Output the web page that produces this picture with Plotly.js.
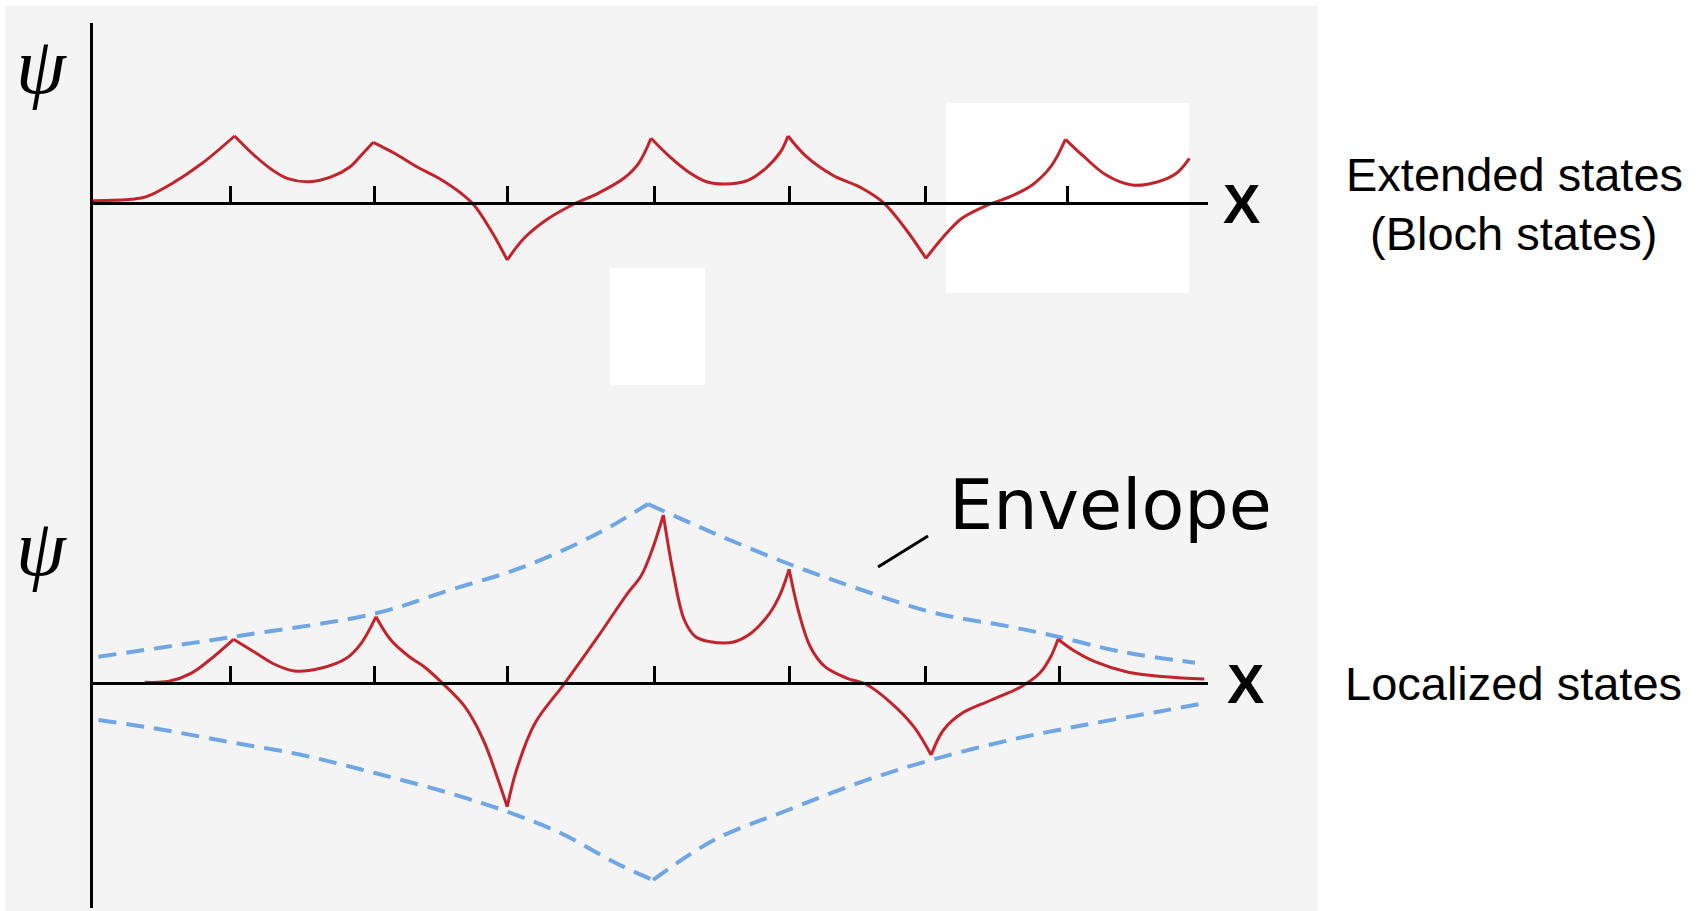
<!DOCTYPE html>
<html>
<head>
<meta charset="utf-8">
<script src="https://cdn.plot.ly/plotly-3.0.1.min.js"></script>
<style>
  html, body { margin: 0; padding: 0; background: #ffffff; }
  #plot { width: 1704px; height: 911px; }
</style>
</head>
<body>
<div id="plot"></div>
<script>
// x in lattice units (one tick = one lattice site), psi in arbitrary units

// Extended (Bloch) state
const extendedX = [0.000, 0.277, 0.383, 0.568, 0.780, 1.012, 1.150, 1.282, 1.388, 1.547,
  1.706, 1.838, 1.930, 2.004, 2.155, 2.314, 2.472, 2.631, 2.723, 2.843,
  2.961, 3.081, 3.239, 3.424, 3.610, 3.794, 3.900, 3.989, 4.122, 4.254,
  4.386, 4.518, 4.677, 4.809, 4.915, 4.968, 5.100, 5.285, 5.497, 5.655,
  5.814, 5.954, 6.079, 6.211, 6.396, 6.555, 6.713, 6.846, 6.951, 7.084,
  7.242, 7.427, 7.613, 7.744, 7.837];
const extendedPsi = [0.023, 0.037, 0.063, 0.197, 0.397, 0.670, 0.480, 0.330, 0.247, 0.213,
  0.263, 0.363, 0.497, 0.607, 0.497, 0.363, 0.247, 0.097, -0.020, -0.270,
  -0.570, -0.353, -0.170, -0.020, 0.097, 0.247, 0.397, 0.647, 0.463, 0.313,
  0.213, 0.190, 0.223, 0.347, 0.513, 0.670, 0.463, 0.280, 0.147, -0.003,
  -0.270, -0.553, -0.337, -0.153, -0.020, 0.063, 0.180, 0.363, 0.637, 0.463,
  0.280, 0.180, 0.213, 0.297, 0.447];

// Localized state
const localizedX = [0.370, 0.542, 0.700, 0.833, 1.004, 1.150, 1.309, 1.441, 1.626, 1.811,
  1.917, 2.023, 2.129, 2.261, 2.367, 2.499, 2.658, 2.790, 2.896, 2.961,
  3.027, 3.159, 3.371, 3.609, 3.821, 3.917, 3.995, 4.077, 4.148, 4.227,
  4.307, 4.412, 4.571, 4.703, 4.836, 4.915, 4.976, 5.047, 5.127, 5.232,
  5.391, 5.523, 5.708, 5.867, 5.991, 6.079, 6.211, 6.422, 6.634, 6.766,
  6.846, 6.898, 7.004, 7.162, 7.400, 7.665, 7.943];
const localizedPsi = [0.002, 0.012, 0.092, 0.225, 0.432, 0.308, 0.175, 0.115, 0.142, 0.242,
  0.392, 0.658, 0.425, 0.258, 0.158, -0.008, -0.242, -0.575, -0.975, -1.242,
  -0.875, -0.408, -0.008, 0.458, 0.892, 1.065, 1.320, 1.675, 1.092, 0.625,
  0.458, 0.408, 0.402, 0.492, 0.692, 0.892, 1.132, 0.692, 0.358, 0.158,
  0.042, -0.015, -0.208, -0.442, -0.725, -0.475, -0.308, -0.175, -0.042, 0.092,
  0.258, 0.432, 0.325, 0.208, 0.102, 0.058, 0.035];

// Exponential envelope of the localized state
const envelopeUpperX = [0.039, 1.004, 2.023, 2.552, 3.081, 3.610, 3.967, 4.439, 4.994,
  5.497, 6.026, 6.555, 6.898, 7.348, 7.877];
const envelopeUpperY = [0.258, 0.458, 0.692, 0.925, 1.158, 1.492, 1.785, 1.492, 1.175,
  0.925, 0.692, 0.558, 0.458, 0.308, 0.198];
const envelopeLowerX = [0.039, 0.436, 0.965, 1.494, 2.023, 2.552, 2.961, 3.345, 3.741,
  4.003, 4.439, 4.968, 5.497, 5.991, 6.555, 7.084, 7.613, 7.941];
const envelopeLowerY = [-0.375, -0.458, -0.592, -0.725, -0.908, -1.108, -1.292, -1.508, -1.808,
  -1.975, -1.575, -1.275, -0.992, -0.775, -0.575, -0.425, -0.292, -0.208];

// Lattice site positions
const latticeTop = [0.984, 2.015, 2.966, 4.017, 4.975, 5.954, 6.969];
const latticeBottom = [0.984, 2.015, 2.966, 4.017, 4.975, 5.954, 6.912];

// Axis ranges
const xRange = [0, 7.97];
const yTopRange = [-2.37, 1.80];
const yBottomRange = [-2.255, 2.425];

// ---- page geometry (pixels) ----
const W = 1704, H = 911;
const L = 93, R = 1208, T = 23, B = 908;
const SPLIT = 440;   // pixel row where the two panels meet
const px = x => (x - L) / (R - L);
const py = y => (B - y) / (B - T);
const splitFrac = py(SPLIT);

// paper fraction of psi = 0 in each panel
const zeroFrac = (range, d0, d1) => d0 + (0 - range[0]) / (range[1] - range[0]) * (d1 - d0);
const topAxisPos = zeroFrac(yTopRange, splitFrac, 1);
const botAxisPos = zeroFrac(yBottomRange, 0, splitFrac);

const RED = '#c3232b';
const BLUE = '#6ea6e6';

// The wavefunction is smooth between atoms but has sharp cusps on the atomic
// sites (positive maxima / negative minima).  Each smooth piece is drawn as its
// own spline so the cusps stay pointed.
function cuspSegments(xs, ys, xaxis, yaxis, line) {
  const cuts = [0];
  for (let i = 1; i < xs.length - 1; i++) {
    const isMax = ys[i] > ys[i - 1] && ys[i] > ys[i + 1] && ys[i] > 0;
    const isMin = ys[i] < ys[i - 1] && ys[i] < ys[i + 1] && ys[i] < 0;
    if (isMax || isMin) cuts.push(i);
  }
  cuts.push(xs.length - 1);
  const out = [];
  for (let k = 0; k < cuts.length - 1; k++) {
    const a = cuts[k], b = cuts[k + 1];
    out.push({
      x: xs.slice(a, b + 1), y: ys.slice(a, b + 1), xaxis: xaxis, yaxis: yaxis,
      mode: 'lines', line: Object.assign({ shape: 'spline', smoothing: 1 }, line),
      hoverinfo: 'skip'
    });
  }
  return out;
}

const redLine = { color: RED, width: 3 };
const blueLine = { color: BLUE, width: 4, dash: '18px,10px' };

const traces = [].concat(
  cuspSegments(extendedX, extendedPsi, 'x', 'y', redLine),
  cuspSegments(envelopeUpperX, envelopeUpperY, 'x2', 'y2', blueLine),
  cuspSegments(envelopeLowerX, envelopeLowerY, 'x2', 'y2', blueLine),
  cuspSegments(localizedX, localizedPsi, 'x2', 'y2', redLine)
);

const xAxisCommon = {
  range: xRange, domain: [0, 1], showgrid: false, zeroline: false,
  showline: true, linecolor: '#000', linewidth: 3,
  ticks: 'inside', ticklen: 16, tickwidth: 3, tickcolor: '#000',
  tickmode: 'array', showticklabels: false, fixedrange: true
};
const yAxisCommon = {
  showgrid: false, zeroline: false, showline: true, linecolor: '#000', linewidth: 3,
  ticks: '', showticklabels: false, fixedrange: true
};

const serifPsi = { family: 'Liberation Serif, DejaVu Serif, serif', size: 80, color: '#000', style: 'italic' };
const sansLabel = { family: 'Liberation Sans, Arial, sans-serif', size: 47, color: '#000' };
const axisX = { family: 'Liberation Sans, Arial, sans-serif', size: 56, color: '#000', weight: 700 };

const ann = (x, y, text, font, xanchor) => ({
  xref: 'paper', yref: 'paper', x: px(x), y: py(y), text: text, font: font,
  showarrow: false, xanchor: xanchor || 'center', yanchor: 'middle'
});

const layout = {
  width: W, height: H,
  margin: { l: L, r: W - R, t: T, b: H - B, pad: 0 },
  paper_bgcolor: '#ffffff',
  plot_bgcolor: 'rgba(0,0,0,0)',
  showlegend: false,
  xaxis: Object.assign({}, xAxisCommon, { anchor: 'free', position: topAxisPos, tickvals: latticeTop }),
  xaxis2: Object.assign({}, xAxisCommon, { anchor: 'free', position: botAxisPos, tickvals: latticeBottom }),
  yaxis: Object.assign({}, yAxisCommon, { range: yTopRange, domain: [splitFrac, 1], anchor: 'x' }),
  yaxis2: Object.assign({}, yAxisCommon, { range: yBottomRange, domain: [0, splitFrac], anchor: 'x2' }),
  shapes: [
    // light grey sheet behind the drawing
    { type: 'rect', xref: 'paper', yref: 'paper', layer: 'below',
      x0: px(5), x1: px(1318), y0: py(6), y1: py(911),
      fillcolor: '#f4f4f4', line: { width: 0 } },
    { type: 'rect', xref: 'paper', yref: 'paper', layer: 'below',
      x0: px(946), x1: px(1189), y0: py(103), y1: py(293),
      fillcolor: '#ffffff', line: { width: 0 } },
    { type: 'rect', xref: 'paper', yref: 'paper', layer: 'below',
      x0: px(610), x1: px(705), y0: py(268), y1: py(385),
      fillcolor: '#ffffff', line: { width: 0 } },
    // pointer from the label to the envelope
    { type: 'line', xref: 'paper', yref: 'paper',
      x0: px(878), y0: py(567), x1: px(928), y1: py(536),
      line: { color: '#000', width: 3 } }
  ],
  annotations: [
    ann(41, 66, 'ψ', serifPsi),
    ann(41, 548, 'ψ', serifPsi),
    ann(1241, 204, 'X', axisX),
    ann(1245, 683, 'X', axisX),
    ann(1514, 174, 'Extended states', sansLabel),
    ann(1513, 233, '(Bloch states)', sansLabel),
    ann(1513, 683, 'Localized states', sansLabel),
    ann(1110, 505, 'Envelope', { family: 'DejaVu Sans, sans-serif', size: 70, color: '#000' })
  ]
};

Plotly.newPlot('plot', traces, layout, { staticPlot: true, displayModeBar: false });
</script>
</body>
</html>
